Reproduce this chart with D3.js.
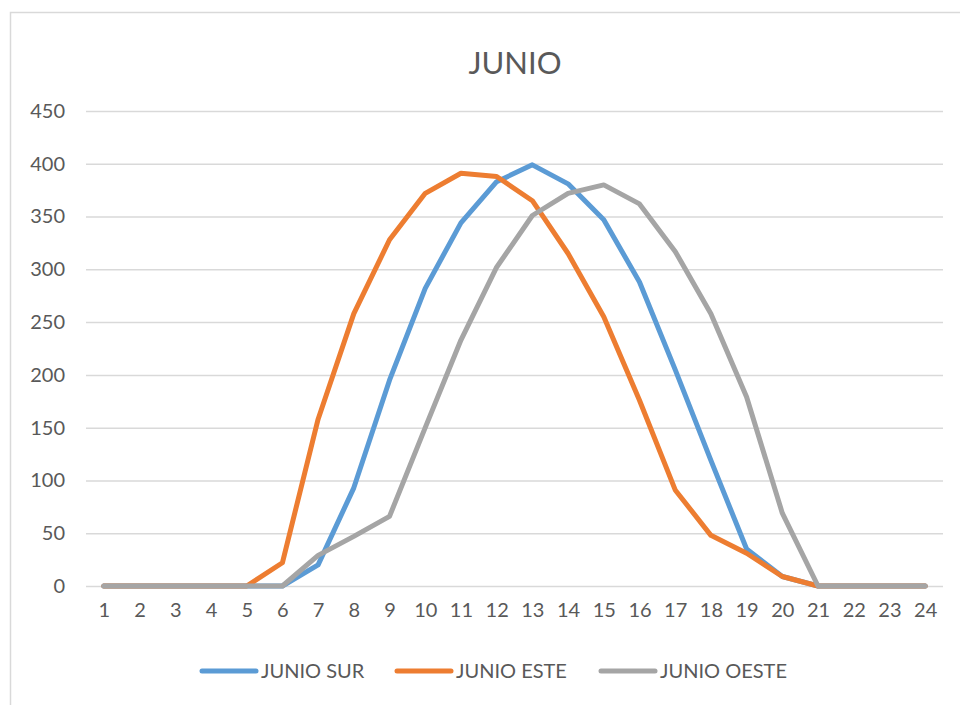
<!DOCTYPE html>
<html>
<head>
<meta charset="utf-8">
<script src="https://cdn.jsdelivr.net/npm/d3@7/dist/d3.min.js"></script>
<style>
  html, body { margin: 0; padding: 0; background: #fff; }
  svg { display: block; font-family: Lato, "Open Sans", sans-serif; }
</style>
</head>
<body>
<svg id="chart" width="960" height="705"></svg>
<script>
// Hourly irradiance for June by facade orientation
const hours = ["1","2","3","4","5","6","7","8","9","10","11","12","13","14","15","16","17","18","19","20","21","22","23","24"];
const junioSur   = [0,0,0,0,0,0,20,93,195,282,344,383,399,381,347,288,205,119,35,9,0,0,0,0];
const junioEste  = [0,0,0,0,0,22,158,258,328,372,391,388,365,315,255,176,91,48,31,9,0,0,0,0];
const junioOeste = [0,0,0,0,0,0,29,47,66,150,233,302,351,372,380,362,317,258,179,69,0,0,0,0];
const yTicks = [0,50,100,150,200,250,300,350,400,450];
const seriesNames = ["JUNIO SUR","JUNIO ESTE","JUNIO OESTE"];
const seriesColors = ["#5B9BD5","#ED7D31","#A5A5A5"];

const svg = d3.select("#chart");
const textColor = "#595959";

// chart frame
svg.append("rect")
  .attr("x", 10.5).attr("y", 12.5)
  .attr("width", 1000).attr("height", 1000)
  .attr("fill", "#fff").attr("stroke", "#d9d9d9").attr("stroke-width", 1.5);

const plot = { left: 86, right: 943, top: 111, bottom: 586 };

const x = d3.scalePoint().domain(hours).range([plot.left, plot.right]).padding(0.5);
const y = d3.scaleLinear().domain([0, 450]).range([plot.bottom, plot.top]);

// title
svg.append("text")
  .attr("x", 515).attr("y", 74)
  .attr("text-anchor", "middle")
  .attr("font-size", 31)
  .attr("fill", textColor)
  .text("JUNIO");

// horizontal gridlines + y labels
const yAxis = d3.axisLeft(y).tickValues(yTicks).tickSize(-(plot.right - plot.left)).tickPadding(21);
const gy = svg.append("g").attr("transform", `translate(${plot.left},0)`).call(yAxis);
gy.select(".domain").remove();
gy.selectAll(".tick line").attr("stroke", "#d9d9d9").attr("stroke-width", 1.5);
gy.selectAll(".tick text").attr("fill", textColor).attr("font-size", 20)
  .attr("font-family", "Lato, sans-serif");

// x labels
const xAxis = d3.axisBottom(x).tickSize(0).tickPadding(17);
const gx = svg.append("g").attr("transform", `translate(0,${plot.bottom})`).call(xAxis);
gx.select(".domain").remove();
gx.selectAll(".tick text").attr("fill", textColor).attr("font-size", 20)
  .attr("font-family", "Lato, sans-serif");

// series lines
const line = d3.line().x((d, i) => x(hours[i])).y(d => y(d));
[junioSur, junioEste, junioOeste].forEach((vals, k) => {
  svg.append("path")
    .datum(vals)
    .attr("d", line)
    .attr("fill", "none")
    .attr("stroke", seriesColors[k])
    .attr("stroke-width", 5)
    .attr("stroke-linejoin", "round")
    .attr("stroke-linecap", "round");
});

// legend
const legendX = [202, 397, 601];
const legendY = 671;
seriesNames.forEach((name, k) => {
  svg.append("line")
    .attr("x1", legendX[k]).attr("x2", legendX[k] + 54)
    .attr("y1", legendY).attr("y2", legendY)
    .attr("stroke", seriesColors[k]).attr("stroke-width", 5)
    .attr("stroke-linecap", "round");
  svg.append("text")
    .attr("x", legendX[k] + 59).attr("y", legendY + 7)
    .attr("font-size", 20)
    .attr("fill", textColor)
    .text(name);
});
</script>
</body>
</html>
